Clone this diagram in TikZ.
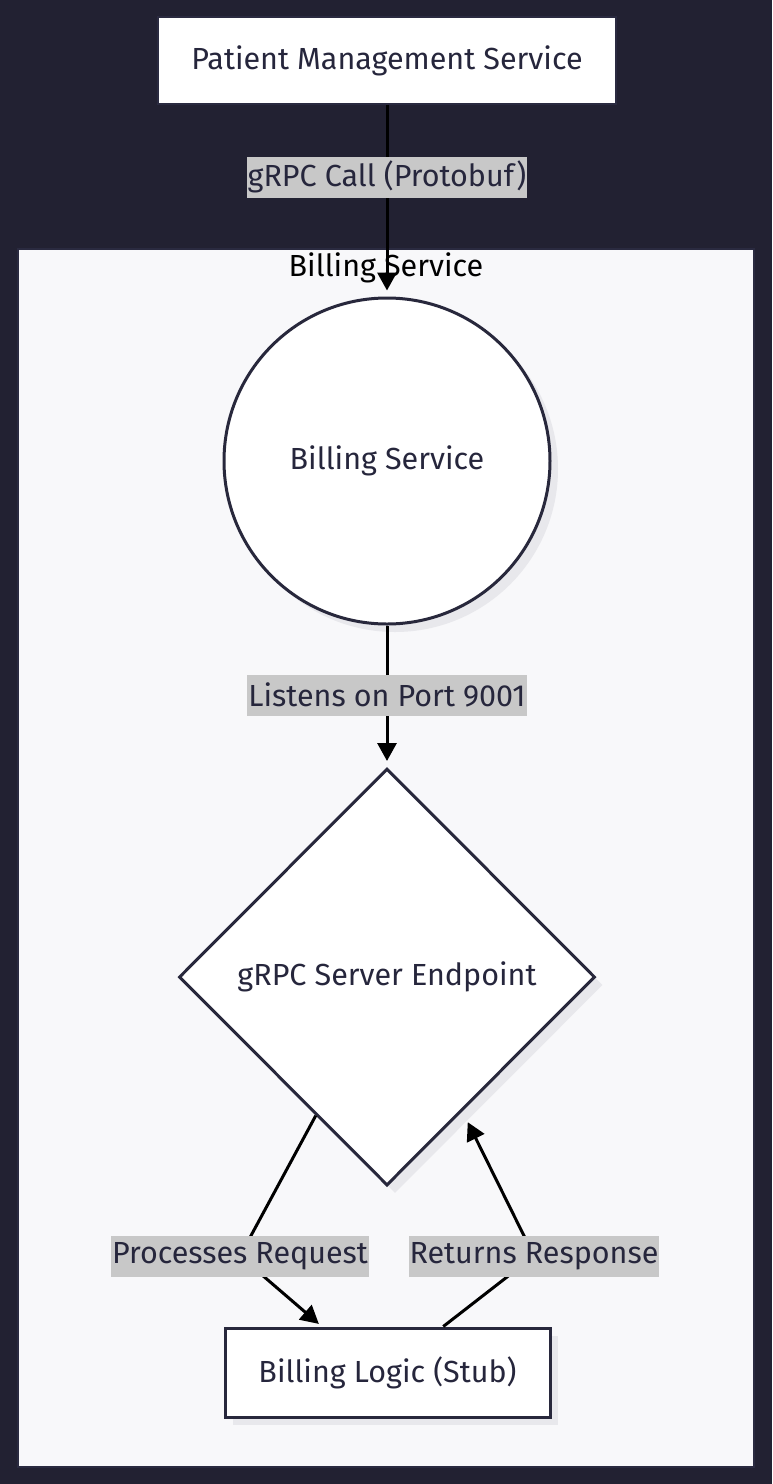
\documentclass[tikz,border=0pt]{standalone}
\usepackage{fontspec}
\setmainfont{Fira Sans}
\usetikzlibrary{shapes.geometric,arrows.meta,calc,shadows}
\definecolor{bgc}{RGB}{34,33,50}
\definecolor{clfill}{RGB}{248,248,250}
\definecolor{clborder}{RGB}{42,42,64}
\definecolor{nodeborder}{RGB}{40,40,60}
\definecolor{txt}{RGB}{38,38,60}
\definecolor{lblbg}{RGB}{200,200,200}
\definecolor{shadowc}{RGB}{232,232,236}
\begin{document}
\begin{tikzpicture}[x=1pt,y=-1pt,
  every node/.style={font=\fontsize{30.5}{34}\selectfont, text=txt},
  nodebox/.style={draw=nodeborder, line width=3pt, fill=white,
    drop shadow={shadow xshift=8pt, shadow yshift=-8pt, fill=shadowc, opacity=1}},
  lbl/.style={fill=lblbg, inner xsep=1pt, inner ysep=0pt, minimum height=41pt},
  arr/.style={line width=3pt, draw=black, -{Triangle[length=18pt,width=19pt]}}]
\useasboundingbox (0,0) rectangle (772,1484);
\fill[bgc] (0,0) rectangle (772,1484);
% cluster
\draw[clborder, line width=2pt, fill=clfill] (18,249) rectangle (754,1467);
\node[text=black] (title) at (386,268) {Billing Service};
% top node
\node[draw=clborder, line width=1.5pt, fill=white, minimum width=458pt, minimum height=87pt] (pm) at (387,60.5) {Patient Management Service};
% circle
\node[nodebox, circle, minimum size=326pt, inner sep=0pt] (bs) at (387,461) {Billing Service};
% diamond
\node[nodebox, diamond, minimum width=416pt, minimum height=417pt, inner sep=0pt] (gs) at (387,977) {gRPC Server Endpoint};
% box
\node[nodebox, rectangle, minimum width=325pt, minimum height=89pt] (bl) at (387.5,1372.5) {Billing Logic (Stub)};
% edges
\draw[arr, shorten >=6pt] (pm.south) -- (bs.north);
\draw[arr, shorten >=6pt] (bs.south) -- (gs.north);
\draw[arr, shorten >=4pt] ($(gs.west)!0.66!(gs.south)$) -- (240,1256) -- ($(bl.north west)!0.3!(bl.north east)$);
\draw[arr, shorten >=12pt] ($(bl.north west)!0.67!(bl.north east)$) -- (534,1256) -- ($(gs.east)!0.64!(gs.south)$);
% labels
\node[lbl] (l1) at (387,177) {gRPC Call (Protobuf)};
\node[lbl] (l2) at (387,695) {Listens on Port 9001};
\node[lbl] (l3) at (240,1256.5) {Processes Request};
\node[lbl] (l4) at (534,1256.5) {Returns Response};
\end{tikzpicture}
\end{document}
